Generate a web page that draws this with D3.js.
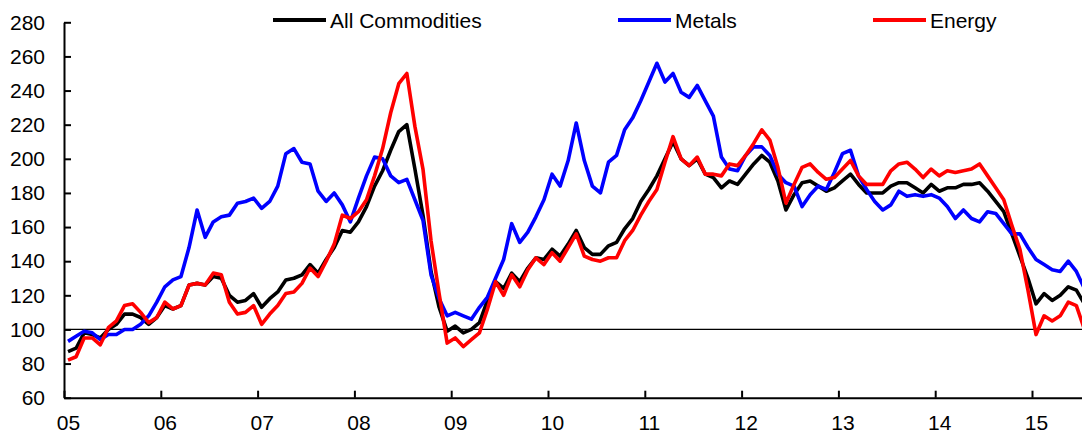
<!DOCTYPE html>
<html>
<head>
<meta charset="utf-8">
<script src="https://cdn.jsdelivr.net/npm/d3@7"></script>
<style>
  body { margin: 0; background: #fff; }
  text { font-family: Arial, "Liberation Sans", sans-serif; }
</style>
</head>
<body>
<div id="chart"></div>
<script>
var width = 1082;
var height = 433;

// Monthly index values, Jan 2005 .. Jul 2015
var allCommodities = [
  87, 89, 98, 97, 95, 100, 103, 109, 109, 107, 103, 107,
  114, 112, 114, 126, 127, 126, 131, 130, 120, 116, 117, 121,
  113, 118, 122, 129, 130, 132, 138, 133, 141, 148, 158, 157,
  163, 172, 184, 193, 205, 216, 220, 194, 167, 134, 113, 99,
  102, 98, 100, 104, 117, 128, 124, 133, 128, 136, 142, 141,
  147, 143, 150, 158, 148, 144, 144, 149, 151, 159, 165, 175,
  182, 190, 200, 210, 200, 196, 200, 191, 189, 183, 187, 185,
  191, 197, 202, 198, 187, 170, 179, 186, 187, 184, 181, 183,
  187, 191, 185, 180, 180, 180, 184, 186, 186, 183, 180, 185,
  181, 183, 183, 185, 185, 186, 181, 175, 169, 156, 143, 130,
  115, 121, 117, 120, 125, 123, 115
];
var metals = [
  93, 96, 99, 98, 94, 97, 97, 100, 100, 103, 108, 116,
  125, 129, 131, 148, 170, 154, 163, 166, 167, 174, 175, 177,
  171, 175, 184, 203, 206, 198, 197, 181, 175, 180, 173, 163,
  177, 190, 201, 200, 190, 186, 188, 176, 164, 132, 118, 108,
  110, 108, 106, 113, 119, 130, 141, 162, 151, 157, 166, 176,
  191, 184, 199, 221, 199, 184, 180, 198, 202, 217, 224, 234,
  245, 256, 245, 250, 239, 236, 243, 234, 225, 201, 194, 193,
  202, 207, 207, 202, 191, 186, 184, 172, 179, 184, 182, 192,
  203, 205, 190, 182, 175, 170, 173, 181, 178, 179, 178, 179,
  177, 172, 165, 170, 165, 163, 169, 168, 162, 156, 156, 148,
  141, 138, 135, 134, 140, 134, 124
];
var energy = [
  82, 84, 95, 95, 91, 101, 105, 114, 115, 110, 104, 107,
  116, 112, 114, 126, 127, 126, 133, 132, 116, 109, 110, 114,
  103, 109, 114, 121, 122, 127, 136, 131, 140, 150, 167, 165,
  169, 176, 190, 206, 227, 244, 250, 219, 194, 152, 121, 92,
  95, 90, 94, 98, 112, 128, 120, 132, 125, 135, 142, 138,
  145, 140, 148, 156, 143, 141, 140, 142, 142, 152, 158, 167,
  175, 182, 198, 213, 200, 196, 201, 191, 191, 190, 197, 196,
  202, 209, 217, 211, 195, 174, 185, 195, 197, 192, 188, 189,
  194, 199, 190, 185, 185, 185, 193, 197, 198, 194, 189, 194,
  190, 193, 192, 193, 194, 197, 190, 183, 176, 161, 147, 123,
  97, 108, 105, 108, 116, 114, 100
];
var yearLabels = ["05", "06", "07", "08", "09", "10", "11", "12", "13", "14", "15"];
var yTicks = [60, 80, 100, 120, 140, 160, 180, 200, 220, 240, 260, 280];

var series = [
  { name: "All Commodities", values: allCommodities, color: "#000000", legendX: 273 },
  { name: "Metals", values: metals, color: "#0000ff", legendX: 618 },
  { name: "Energy", values: energy, color: "#ff0000", legendX: 873 }
];

// layout
var plotLeft = 64;
var plotTop = 22.3;
var plotBottom = 397.7;
var monthW = 96.8 / 12;
var nSlots = 127;

var x = d3.scaleLinear()
    .domain([0, nSlots])
    .range([plotLeft, plotLeft + nSlots * monthW]);

var y = d3.scaleLinear()
    .domain([60, 280])
    .range([plotBottom, plotTop]);

var svg = d3.select("#chart")
    .append("svg")
    .attr("width", width)
    .attr("height", height);

// reference line at 100
svg.append("line")
    .attr("x1", plotLeft)
    .attr("x2", width)
    .attr("y1", y(100))
    .attr("y2", y(100))
    .attr("stroke", "#000")
    .attr("stroke-width", 1.3);

// series
var line = d3.line()
    .x(function(d, i) { return x(i + 0.5); })
    .y(function(d) { return y(d); });

series.forEach(function(s) {
    svg.append("path")
        .datum(s.values)
        .attr("fill", "none")
        .attr("stroke", s.color)
        .attr("stroke-width", 3.6)
        .attr("stroke-linejoin", "round")
        .attr("d", line);
});

// y axis, ticks pointing inward
var yAxis = svg.append("g")
    .attr("transform", "translate(" + plotLeft + ",0)")
    .call(d3.axisLeft(y)
        .tickValues(yTicks)
        .tickSizeInner(-7)
        .tickSizeOuter(0)
        .tickPadding(19));

// x axis ticks at year boundaries
var xAxis = svg.append("g")
    .attr("transform", "translate(0," + plotBottom + ")")
    .call(d3.axisBottom(x)
        .tickValues(d3.range(0, 11).map(function(i) { return i * 12; }))
        .tickSizeInner(-7)
        .tickSizeOuter(0)
        .tickFormat(""));

// x labels under January of each year
var xLabels = svg.append("g")
    .attr("transform", "translate(0," + plotBottom + ")")
    .call(d3.axisBottom(x)
        .tickValues(yearLabels.map(function(d, i) { return i * 12 + 0.5; }))
        .tickSize(0)
        .tickPadding(17)
        .tickFormat(function(d, i) { return yearLabels[i]; }));
xLabels.select(".domain").remove();

svg.selectAll(".domain, .tick line")
    .attr("stroke", "#000")
    .attr("stroke-width", 2);

svg.selectAll(".tick text")
    .attr("fill", "#000")
    .style("font-size", "21px")
    .style("font-family", "Arial, 'Liberation Sans', sans-serif");

// legend
var legend = svg.append("g");
series.forEach(function(s) {
    legend.append("line")
        .attr("x1", s.legendX)
        .attr("x2", s.legendX + 53)
        .attr("y1", 20)
        .attr("y2", 20)
        .attr("stroke", s.color)
        .attr("stroke-width", 4);
    legend.append("text")
        .attr("x", s.legendX + 57)
        .attr("y", 27.5)
        .attr("fill", "#000")
        .style("font-size", "21px")
        .text(s.name);
});
</script>
</body>
</html>
